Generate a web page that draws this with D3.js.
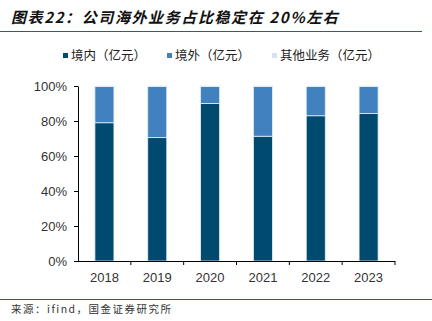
<!DOCTYPE html>
<html>
<head>
<meta charset="utf-8">
<script src="https://cdn.jsdelivr.net/npm/d3@7"></script>
<style>
  html, body { margin: 0; padding: 0; background: #fff; }
  svg { display: block; }
</style>
</head>
<body>
<div id="chart"></div>
<script>
// share of revenue by region, per year (%)
const years = ["2018", "2019", "2020", "2021", "2022", "2023"];
const domestic = [79.0, 70.5, 90.0, 71.3, 83.0, 84.3];
const overseas = [20.7, 29.2, 9.7, 28.4, 16.7, 15.4];
const other = [0.3, 0.3, 0.3, 0.3, 0.3, 0.3];
const yTicks = [0, 20, 40, 60, 80, 100];

const seriesInfo = [
  { id: "domestic", label: "境内（亿元）", color: "#00496f", values: domestic },
  { id: "overseas", label: "境外（亿元）", color: "#4281bf", values: overseas },
  { id: "other", label: "其他业务（亿元）", color: "#d3e3f1", values: other }
];

const width = 432, height = 321;
const plot = { left: 78, right: 395, top: 86, bottom: 261 };

const svg = d3.select("#chart").append("svg")
  .attr("width", width).attr("height", height);

// header
svg.append("text")
  .attr("x", 11).attr("y", 23)
  .attr("font-family", "'Noto Sans CJK SC', sans-serif")
  .attr("font-size", "15px")
  .attr("font-weight", "bold")
  .attr("font-style", "italic")
  .attr("letter-spacing", "1.6px")
  .attr("fill", "#111")
  .text("图表22：公司海外业务占比稳定在 20%左右");

svg.append("line")
  .attr("x1", 0).attr("x2", 422).attr("y1", 31.5).attr("y2", 31.5)
  .attr("stroke", "#2c5b86").attr("stroke-width", 1.2);

// legend
const legendX = [63, 167, 272];
seriesInfo.forEach((s, i) => {
  svg.append("rect")
    .attr("x", legendX[i]).attr("y", 53)
    .attr("width", 5).attr("height", 5)
    .attr("fill", s.color);
  svg.append("text")
    .attr("x", legendX[i] + 8).attr("y", 60)
    .attr("font-family", "'Noto Sans CJK SC', sans-serif")
    .attr("font-size", "12.5px")
    .attr("fill", "#222")
    .text(s.label);
});

const table = years.map((y, i) => {
  const row = { year: y };
  seriesInfo.forEach(s => { row[s.id] = s.values[i]; });
  return row;
});

const stack = d3.stack().keys(seriesInfo.map(s => s.id));
const stacked = stack(table);

const x = d3.scaleBand()
  .domain(years)
  .range([plot.left, plot.right])
  .paddingInner(0.64)
  .paddingOuter(0.32);

const y = d3.scaleLinear()
  .domain([0, 100])
  .range([plot.bottom, plot.top]);

const color = d3.scaleOrdinal()
  .domain(seriesInfo.map(s => s.id))
  .range(seriesInfo.map(s => s.color));

stacked.forEach(series => {
  svg.append("g").selectAll("rect")
    .data(series)
    .join("rect")
    .attr("x", d => x(d.data.year))
    .attr("y", d => y(d[1]))
    .attr("width", x.bandwidth())
    .attr("height", d => y(d[0]) - y(d[1]))
    .attr("fill", color(series.key))
    .attr("stroke", "#e4eef7")
    .attr("stroke-width", 0.8);
});

// y axis
const yAxis = d3.axisLeft(y)
  .tickValues(yTicks)
  .tickFormat(d => d + "%")
  .tickSize(4)
  .tickSizeOuter(0)
  .tickPadding(7);

const gy = svg.append("g")
  .attr("transform", `translate(${plot.left},0)`)
  .call(yAxis);
gy.select(".domain").attr("stroke", "#000");
gy.selectAll(".tick line").attr("stroke", "#000");
gy.selectAll(".tick text")
  .attr("font-family", "'Liberation Sans', Arial, sans-serif")
  .attr("font-size", "13px")
  .attr("fill", "#333");

// x axis: ticks sit between categories
const step = x.step();
const xEdges = d3.range(years.length + 1).map(i => plot.left + i * step);
const gx = svg.append("g");
gx.append("line")
  .attr("x1", plot.left).attr("x2", plot.right)
  .attr("y1", plot.bottom + 0.5).attr("y2", plot.bottom + 0.5)
  .attr("stroke", "#000");
gx.selectAll("line.tick")
  .data(xEdges.slice(1))
  .join("line")
  .attr("class", "tick")
  .attr("x1", d => d).attr("x2", d => d)
  .attr("y1", plot.bottom).attr("y2", plot.bottom + 4)
  .attr("stroke", "#000");
gx.selectAll("text")
  .data(years)
  .join("text")
  .attr("x", d => x(d) + x.bandwidth() / 2)
  .attr("y", 282)
  .attr("text-anchor", "middle")
  .attr("font-family", "'Liberation Sans', Arial, sans-serif")
  .attr("font-size", "13px")
  .attr("fill", "#333")
  .text(d => d);

// footer
svg.append("line")
  .attr("x1", 0).attr("x2", 432).attr("y1", 299.5).attr("y2", 299.5)
  .attr("stroke", "#2c5b86").attr("stroke-width", 1.2);

svg.append("text")
  .attr("x", 11).attr("y", 313)
  .attr("font-family", "'Noto Sans CJK SC', monospace")
  .attr("font-size", "10.5px")
  .attr("letter-spacing", "1.5px")
  .attr("fill", "#333")
  .text("来源：ifind，国金证券研究所");
</script>
</body>
</html>
